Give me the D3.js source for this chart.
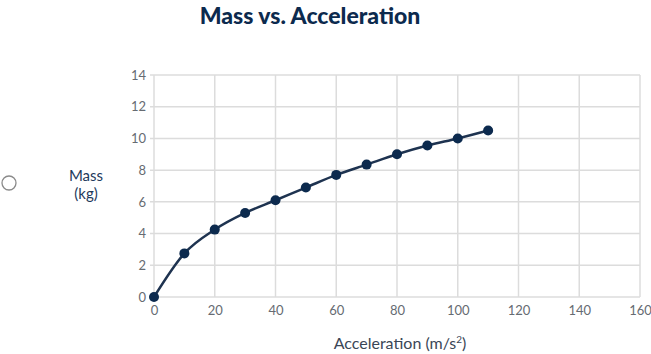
<!DOCTYPE html>
<html>
<head>
<meta charset="utf-8">
<script src="https://cdn.jsdelivr.net/npm/d3@7"></script>
<style>
  body { margin: 0; background: #fff; }
  svg { display: block; }
</style>
</head>
<body>
<div id="chart"></div>
<script>
// data
const acceleration = [0, 10, 20, 30, 40, 50, 60, 70, 80, 90, 100, 110];
const mass = [0, 2.75, 4.25, 5.3, 6.1, 6.9, 7.7, 8.35, 9.0, 9.55, 10.0, 10.5];
const xTicks = [0, 20, 40, 60, 80, 100, 120, 140, 160];
const yTicks = [0, 2, 4, 6, 8, 10, 12, 14];

const data = acceleration.map((a, i) => ({ a: a, m: mass[i] }));

const width = 651, height = 354;
const margin = { top: 75, right: 11, bottom: 57, left: 154 };
const innerW = width - margin.left - margin.right;
const innerH = height - margin.top - margin.bottom;

const svg = d3.select("#chart").append("svg")
  .attr("width", width)
  .attr("height", height);

const g = svg.append("g")
  .attr("transform", `translate(${margin.left},${margin.top})`);

const x = d3.scaleLinear().domain([0, 160]).range([0, innerW]);
const y = d3.scaleLinear().domain([0, 14]).range([innerH, 0]);

// grid
g.append("g")
  .selectAll("line")
  .data(yTicks)
  .enter()
  .append("line")
  .attr("x1", -4)
  .attr("x2", innerW)
  .attr("y1", d => y(d))
  .attr("y2", d => y(d))
  .attr("stroke", "#dcdcdc")
  .attr("stroke-width", 1.5);

g.append("g")
  .selectAll("line")
  .data(xTicks)
  .enter()
  .append("line")
  .attr("x1", d => x(d))
  .attr("x2", d => x(d))
  .attr("y1", 0)
  .attr("y2", innerH)
  .attr("stroke", "#dcdcdc")
  .attr("stroke-width", 1.5);

// axes (labels only)
const xAxis = g.append("g")
  .attr("transform", `translate(0,${innerH})`)
  .call(d3.axisBottom(x).tickValues(xTicks).tickSize(0).tickPadding(9));
const yAxis = g.append("g")
  .call(d3.axisLeft(y).tickValues(yTicks).tickSize(0).tickPadding(8));

[xAxis, yAxis].forEach(ax => {
  ax.select(".domain").remove();
  ax.selectAll("text")
    .style("font-family", "Lato, 'Open Sans', sans-serif")
    .style("font-size", "13px")
    .attr("fill", "#666b72");
});

// line + points
const line = d3.line()
  .x(d => x(d.a))
  .y(d => y(d.m))
  .curve(d3.curveMonotoneX);

g.append("path")
  .datum(data)
  .attr("fill", "none")
  .attr("stroke", "#1e3350")
  .attr("stroke-width", 2.5)
  .attr("d", line);

g.selectAll(".dot")
  .data(data)
  .enter()
  .append("circle")
  .attr("class", "dot")
  .attr("cx", d => x(d.a))
  .attr("cy", d => y(d.m))
  .attr("r", 5)
  .attr("fill", "#0c2a4e");

// title
svg.append("text")
  .attr("x", 310)
  .attr("y", 24)
  .attr("text-anchor", "middle")
  .style("font-family", "Lato, 'Open Sans', sans-serif")
  .style("font-size", "23px")
  .style("font-weight", "900")
  .attr("fill", "#0c2a4e")
  .text("Mass vs. Acceleration");

// y label
const yLab = svg.append("text")
  .attr("text-anchor", "middle")
  .style("font-family", "Lato, 'Open Sans', sans-serif")
  .style("font-size", "15px")
  .attr("fill", "#1e3a5c");
yLab.append("tspan").attr("x", 86).attr("y", 181).text("Mass");
yLab.append("tspan").attr("x", 86).attr("y", 199).text("(kg)");

// x label
const xLab = svg.append("text")
  .attr("x", 400)
  .attr("y", 349)
  .attr("text-anchor", "middle")
  .style("font-family", "Lato, 'Open Sans', sans-serif")
  .style("font-size", "16px")
  .attr("fill", "#3a4656");
xLab.append("tspan").text("Acceleration (m/s");
xLab.append("tspan").attr("dy", -6).style("font-size", "10px").text("2");
xLab.append("tspan").attr("dy", 6).text(")");

// radio-style circle on the left
svg.append("circle")
  .attr("cx", 9)
  .attr("cy", 183)
  .attr("r", 7)
  .attr("fill", "none")
  .attr("stroke", "#8a8a8a")
  .attr("stroke-width", 1.3);
</script>
</body>
</html>
